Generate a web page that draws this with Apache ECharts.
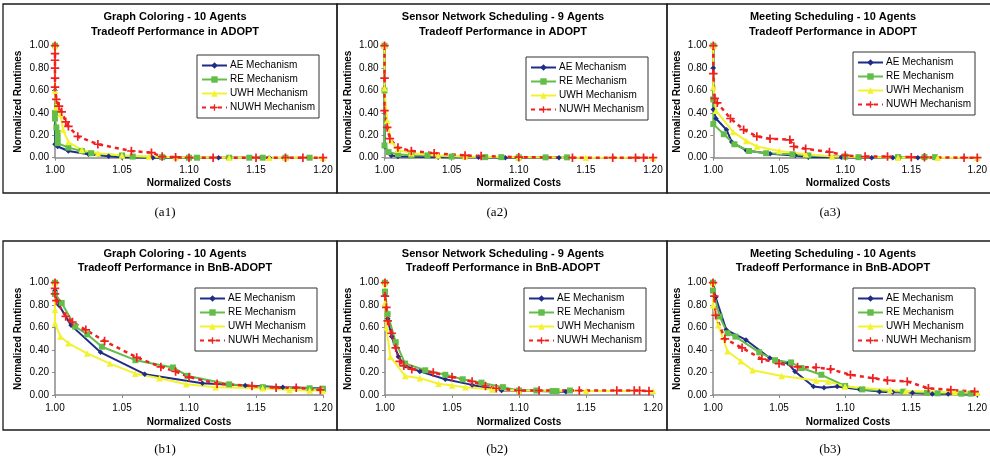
<!DOCTYPE html>
<html><head><meta charset="utf-8">
<script src="https://cdn.jsdelivr.net/npm/echarts@6/dist/echarts.min.js"></script>
<style>html,body{margin:0;padding:0;background:#fff}#c{width:990px;height:470px}</style>
</head><body><div id="c"></div><script>
// ---------- data ----------
const seriesNames = ['AE Mechanism','RE Mechanism','UWH Mechanism','NUWH Mechanism'];
const titleLine1 = ['Graph Coloring - 10 Agents','Sensor Network Scheduling - 9 Agents','Meeting Scheduling - 10 Agents',
                    'Graph Coloring - 10 Agents','Sensor Network Scheduling - 9 Agents','Meeting Scheduling - 10 Agents'];
const titleLine2 = ['Tradeoff Performance in ADOPT','Tradeoff Performance in ADOPT','Tradeoff Performance in ADOPT',
                    'Tradeoff Performance in BnB-ADOPT','Tradeoff Performance in BnB-ADOPT','Tradeoff Performance in BnB-ADOPT'];
const subLabels = ['(a1)','(a2)','(a3)','(b1)','(b2)','(b3)'];
const xAxisName = 'Normalized Costs';
const yAxisName = 'Normalized Runtimes';
const xTickMin = 1.00, xTickMax = 1.20, xTickStep = 0.05;
const yTickMin = 0.00, yTickMax = 1.00, yTickStep = 0.20;

// (a1) Graph Coloring - ADOPT
const a1_AE = [[1.000,1.00],[1.000,0.60],[1.000,0.12],[1.002,0.10],[1.010,0.06],[1.025,0.03],[1.040,0.012],[1.050,0.005],[1.073,0.00],[1.090,0.00],[1.122,0.00],[1.160,0.00]];
const a1_RE = [[1.000,1.00],[1.000,0.40],[1.000,0.35],[1.001,0.27],[1.002,0.22],[1.002,0.17],[1.002,0.13],[1.010,0.09],[1.020,0.06],[1.027,0.04],[1.050,0.02],[1.058,0.01],[1.080,0.005],[1.100,0.00],[1.106,0.00],[1.130,0.00],[1.145,0.00],[1.155,0.00],[1.172,0.00],[1.190,0.00]];
const a1_UWH = [[1.000,1.00],[1.000,0.60],[1.001,0.45],[1.004,0.39],[1.006,0.25],[1.010,0.14],[1.020,0.07],[1.032,0.04],[1.050,0.02],[1.070,0.01],[1.090,0.005],[1.130,0.00],[1.160,0.00],[1.172,0.00],[1.200,0.00]];
const a1_NUWH = [[1.000,1.00],[1.000,0.93],[1.000,0.87],[1.000,0.80],[1.000,0.71],[1.000,0.63],[1.001,0.52],[1.003,0.46],[1.005,0.41],[1.008,0.32],[1.010,0.28],[1.017,0.19],[1.032,0.12],[1.057,0.06],[1.072,0.045],[1.080,0.01],[1.090,0.005],[1.100,0.00],[1.118,0.00],[1.150,0.00],[1.172,0.00],[1.185,0.00],[1.200,0.00]];

// (a2) Sensor Network - ADOPT
const a2_AE = [[1.000,1.00],[1.000,0.10],[1.005,0.02],[1.010,0.01],[1.040,0.005],[1.070,0.003],[1.090,0.00],[1.130,0.00]];
const a2_RE = [[1.000,1.00],[1.000,0.60],[1.000,0.11],[1.003,0.05],[1.010,0.03],[1.020,0.02],[1.032,0.02],[1.050,0.01],[1.075,0.005],[1.087,0.005],[1.100,0.003],[1.120,0.003],[1.136,0.003]];
const a2_UWH = [[1.000,1.00],[1.000,0.62],[1.002,0.33],[1.005,0.15],[1.010,0.07],[1.020,0.04],[1.040,0.02],[1.060,0.01],[1.100,0.005],[1.150,0.00],[1.200,0.00]];
const a2_NUWH = [[1.000,1.00],[1.000,0.71],[1.000,0.42],[1.002,0.27],[1.004,0.17],[1.010,0.09],[1.020,0.06],[1.037,0.04],[1.060,0.02],[1.072,0.015],[1.100,0.005],[1.140,0.00],[1.170,0.00],[1.187,0.00],[1.193,0.00],[1.200,0.00]];

// (a3) Meeting Scheduling - ADOPT
const a3_AE = [[1.000,1.00],[1.000,0.80],[1.000,0.43],[1.002,0.35],[1.010,0.25],[1.014,0.14],[1.025,0.065],[1.043,0.035],[1.062,0.02],[1.072,0.005],[1.097,0.005],[1.120,0.00],[1.136,0.00],[1.155,0.00],[1.160,0.00]];
const a3_RE = [[1.000,1.00],[1.000,0.52],[1.000,0.30],[1.008,0.21],[1.016,0.12],[1.027,0.06],[1.040,0.04],[1.060,0.03],[1.072,0.02],[1.100,0.01],[1.110,0.005],[1.140,0.005],[1.160,0.005],[1.168,0.005]];
const a3_UWH = [[1.000,1.00],[1.000,0.63],[1.002,0.42],[1.015,0.23],[1.025,0.15],[1.033,0.10],[1.050,0.06],[1.070,0.03],[1.090,0.01],[1.140,0.00],[1.170,0.00],[1.200,0.00]];
const a3_NUWH = [[1.000,1.00],[1.000,0.75],[1.001,0.53],[1.003,0.49],[1.013,0.35],[1.023,0.25],[1.033,0.19],[1.043,0.17],[1.058,0.16],[1.061,0.10],[1.070,0.08],[1.088,0.05],[1.100,0.02],[1.115,0.01],[1.132,0.01],[1.150,0.005],[1.160,0.003],[1.190,0.00],[1.200,0.00]];

// (b1) Graph Coloring - BnB-ADOPT
const b1_AE = [[1.000,1.00],[1.000,0.93],[1.003,0.80],[1.012,0.62],[1.034,0.38],[1.067,0.185],[1.110,0.105],[1.142,0.085],[1.170,0.07],[1.200,0.06]];
const b1_RE = [[1.000,1.00],[1.000,0.90],[1.005,0.82],[1.015,0.61],[1.024,0.54],[1.035,0.43],[1.060,0.31],[1.088,0.245],[1.099,0.17],[1.130,0.095],[1.155,0.07],[1.190,0.06],[1.200,0.055]];
const b1_UWH = [[1.000,1.00],[1.000,0.76],[1.000,0.64],[1.004,0.52],[1.010,0.46],[1.024,0.37],[1.041,0.28],[1.060,0.19],[1.078,0.15],[1.098,0.095],[1.120,0.07],[1.155,0.06],[1.175,0.045],[1.190,0.04],[1.200,0.04]];
const b1_NUWH = [[1.000,1.00],[1.000,0.95],[1.000,0.90],[1.001,0.84],[1.008,0.70],[1.013,0.65],[1.023,0.58],[1.037,0.48],[1.061,0.335],[1.079,0.25],[1.090,0.21],[1.100,0.16],[1.121,0.10],[1.147,0.08],[1.165,0.065],[1.180,0.065],[1.198,0.045]];

// (b2) Sensor Network - BnB-ADOPT
const b2_AE = [[1.000,1.00],[1.000,0.89],[1.002,0.68],[1.005,0.52],[1.010,0.34],[1.015,0.26],[1.026,0.21],[1.045,0.14],[1.065,0.09],[1.087,0.04],[1.100,0.04],[1.135,0.03]];
const b2_RE = [[1.000,1.00],[1.000,0.92],[1.002,0.72],[1.008,0.47],[1.015,0.28],[1.030,0.22],[1.045,0.18],[1.058,0.14],[1.072,0.11],[1.088,0.07],[1.100,0.04],[1.113,0.04],[1.125,0.035],[1.128,0.035],[1.138,0.04]];
const b2_UWH = [[1.000,1.00],[1.000,0.82],[1.001,0.60],[1.004,0.34],[1.015,0.17],[1.026,0.15],[1.040,0.10],[1.050,0.085],[1.060,0.07],[1.080,0.05],[1.100,0.04],[1.150,0.035],[1.200,0.035]];
const b2_NUWH = [[1.000,1.00],[1.000,0.88],[1.001,0.78],[1.002,0.66],[1.005,0.55],[1.008,0.42],[1.011,0.30],[1.014,0.26],[1.020,0.23],[1.036,0.20],[1.050,0.16],[1.065,0.12],[1.075,0.08],[1.083,0.06],[1.100,0.04],[1.115,0.04],[1.145,0.04],[1.173,0.04],[1.186,0.04],[1.190,0.04],[1.197,0.035]];

// (b3) Meeting Scheduling - BnB-ADOPT
const b3_AE = [[1.000,1.00],[1.002,0.87],[1.010,0.58],[1.025,0.49],[1.043,0.33],[1.057,0.28],[1.062,0.21],[1.076,0.075],[1.084,0.065],[1.094,0.075],[1.111,0.05],[1.126,0.03],[1.136,0.025],[1.151,0.02],[1.166,0.01],[1.178,0.01],[1.200,0.005]];
const b3_RE = [[1.000,1.00],[1.000,0.93],[1.005,0.70],[1.011,0.55],[1.017,0.52],[1.035,0.38],[1.047,0.31],[1.059,0.29],[1.067,0.24],[1.082,0.18],[1.100,0.08],[1.113,0.05],[1.144,0.03],[1.162,0.02],[1.170,0.015],[1.188,0.012],[1.195,0.012]];
const b3_UWH = [[1.000,1.00],[1.000,0.80],[1.004,0.62],[1.011,0.39],[1.021,0.30],[1.030,0.22],[1.052,0.17],[1.078,0.13],[1.087,0.12],[1.100,0.075],[1.134,0.045],[1.146,0.035],[1.183,0.025],[1.200,0.02]];
const b3_NUWH = [[1.000,1.00],[1.001,0.88],[1.002,0.71],[1.009,0.50],[1.022,0.42],[1.037,0.32],[1.050,0.28],[1.064,0.25],[1.078,0.245],[1.089,0.23],[1.104,0.18],[1.121,0.15],[1.132,0.13],[1.147,0.12],[1.163,0.06],[1.180,0.045],[1.198,0.03]];

const panelData = [
  [a1_AE,a1_RE,a1_UWH,a1_NUWH],
  [a2_AE,a2_RE,a2_UWH,a2_NUWH],
  [a3_AE,a3_RE,a3_UWH,a3_NUWH],
  [b1_AE,b1_RE,b1_UWH,b1_NUWH],
  [b2_AE,b2_RE,b2_UWH,b2_NUWH],
  [b3_AE,b3_RE,b3_UWH,b3_NUWH]
];

// ---------- layout & styles ----------
const FONT = '"Liberation Sans", Arial, Helvetica, sans-serif';
const SERIF = '"Liberation Serif", "Times New Roman", serif';
const gridLeft = [55, 384.5, 713.3, 55, 385, 713];
const gridWidth = [268, 268.5, 269.5, 268, 268, 270];
const gridTop = [45.7, 45.7, 45.7, 282.7, 282.7, 282.7];
const gridHeight = [112, 112, 112, 112.3, 112.3, 112.3];
const legendPos = [[197,55],[526,57],[853,52],[195,288],[524,288],[853,288]];
const titleCx = [175, 503, 833, 175, 503, 833];
const titleY1 = [17, 17, 17, 254, 254, 254];
const titleY2 = [32, 32, 32, 268, 268, 268];
const yNameX = [18, 348, 677, 18, 348, 677];
const xNameY = [183, 183, 183, 422, 422, 422];
const subLabelX = [165, 497, 830, 165, 497, 830];
const subLabelY = [213, 213, 213, 450, 450, 450];
const boxes = [[3,4,334,189],[337,4,330,189],[667,4,330,189],[3,241,334,189],[337,241,330,189],[667,241,330,189]];

const PLUS = 'path://M4,0H6V4H10V6H6V10H4V6H0V4H4Z';
const seriesStyle = [
  {color:'#1F2D86', symbol:'diamond', size:5.5, dash:'solid', width:2},
  {color:'#62BE48', symbol:'rect', size:6, dash:'solid', width:2},
  {color:'#F2F230', symbol:'triangle', size:6.5, dash:'solid', width:2},
  {color:'#F02020', symbol:PLUS, size:8.5, dash:[4,4], width:2.5}
];

const grids = [], xAxes = [], yAxes = [], series = [], legends = [], graphics = [];
for (let p = 0; p < 6; p++) {
  grids.push({left:gridLeft[p], top:gridTop[p], width:gridWidth[p], height:gridHeight[p], containLabel:false});
  xAxes.push({type:'value', gridIndex:p, min:xTickMin, max:xTickMax, interval:xTickStep,
    axisLine:{show:true, onZero:false, lineStyle:{color:'#8a8a8a', width:1.5}},
    axisTick:{show:true, length:3, lineStyle:{color:'#8a8a8a'}},
    axisLabel:{fontFamily:FONT, fontSize:10, color:'#000', margin:8, formatter:v=>v.toFixed(2)},
    splitLine:{show:false}});
  yAxes.push({type:'value', gridIndex:p, min:yTickMin, max:yTickMax, interval:yTickStep,
    axisLine:{show:true, lineStyle:{color:'#8a8a8a', width:1.5}},
    axisTick:{show:true, length:3, lineStyle:{color:'#8a8a8a'}},
    axisLabel:{fontFamily:FONT, fontSize:10, color:'#000', margin:6, formatter:v=>v.toFixed(2)},
    splitLine:{show:false}});
  for (let s = 0; s < 4; s++) {
    const st = seriesStyle[s];
    series.push({type:'line', name:seriesNames[s], xAxisIndex:p, yAxisIndex:p, data:panelData[p][s],
      symbol:st.symbol, symbolSize:st.size, showAllSymbol:true, clip:false, animation:false,
      itemStyle:{color:st.color, borderWidth:0},
      lineStyle:{color:st.color, width:st.width, type:st.dash}});
  }
  legends.push({show:true, orient:'vertical', left:legendPos[p][0], top:legendPos[p][1],
    data:seriesNames, itemWidth:25, itemHeight:8, itemGap:3, padding:[5,4,5,4],
    borderColor:'#333', borderWidth:1, backgroundColor:'#fff', borderRadius:0,
    textStyle:{fontFamily:FONT, fontSize:10, lineHeight:11, color:'#000', padding:[0,0,0,-2]},
    selectedMode:false});
  graphics.push({type:'rect', shape:{x:boxes[p][0], y:boxes[p][1], width:boxes[p][2], height:boxes[p][3]},
    style:{fill:'none', stroke:'#1a1a1a', lineWidth:1.3}, z:100});
  graphics.push({type:'text', x:titleCx[p], y:titleY1[p], style:{text:titleLine1[p], font:'bold 11px '+FONT, fill:'#000', align:'center', verticalAlign:'middle', textAlign:'center', textVerticalAlign:'middle'}});
  graphics.push({type:'text', x:titleCx[p], y:titleY2[p], style:{text:titleLine2[p], font:'bold 11px '+FONT, fill:'#000', align:'center', verticalAlign:'middle', textAlign:'center', textVerticalAlign:'middle'}});
  graphics.push({type:'text', x:gridLeft[p]+gridWidth[p]/2, y:xNameY[p], style:{text:xAxisName, font:'bold 10px '+FONT, fill:'#000', align:'center', verticalAlign:'middle', textAlign:'center', textVerticalAlign:'middle'}});
  graphics.push({type:'text', x:yNameX[p], y:gridTop[p]+gridHeight[p]/2, rotation:Math.PI/2, style:{text:yAxisName, font:'bold 10px '+FONT, fill:'#000', align:'center', verticalAlign:'middle', textAlign:'center', textVerticalAlign:'middle'}});
  graphics.push({type:'text', x:subLabelX[p], y:subLabelY[p], style:{text:subLabels[p], font:'13px '+SERIF, fill:'#000', align:'center', verticalAlign:'middle', textAlign:'center', textVerticalAlign:'middle'}});
}

const chart = echarts.init(document.getElementById('c'), null, {renderer:'canvas'});
chart.setOption({
  backgroundColor:'#fff', animation:false,
  grid:grids, xAxis:xAxes, yAxis:yAxes, series:series, legend:legends,
  graphic:{elements:graphics}
});
</script></body></html>
